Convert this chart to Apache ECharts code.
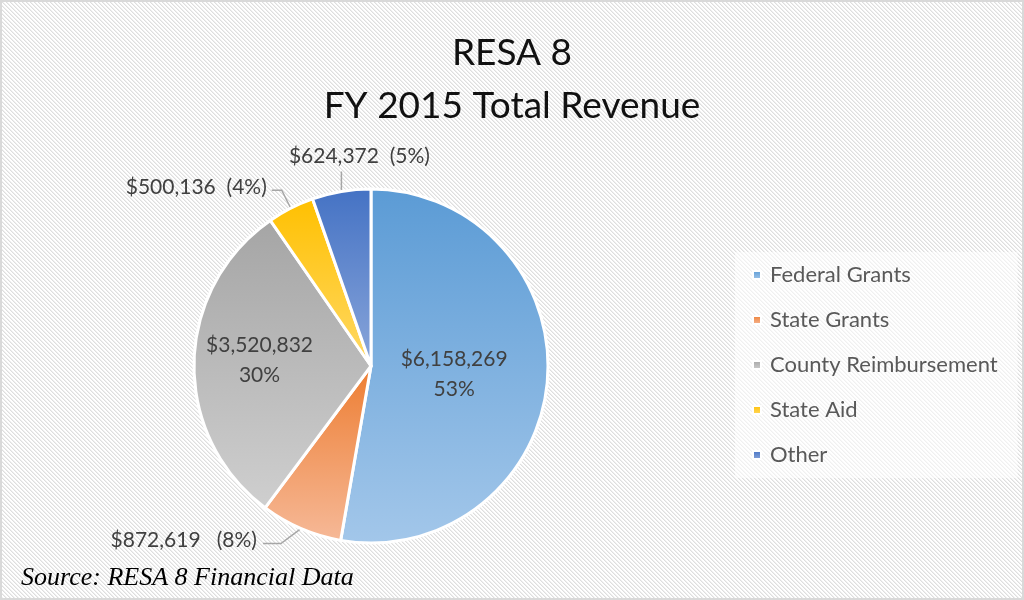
<!DOCTYPE html>
<html>
<head>
<meta charset="utf-8">
<script src="https://cdn.jsdelivr.net/npm/echarts@6/dist/echarts.min.js"></script>
<style>
  html, body { margin: 0; padding: 0; }
  #main {
    width: 1024px; height: 600px; box-sizing: border-box;
    border: 2px solid #d9d9d9;
  }
</style>
</head>
<body>
<div id="main"></div>
<script>
// revenue sources
var categories = ['Federal Grants', 'State Grants', 'County Reimbursement', 'State Aid', 'Other'];
var amounts = [6158269, 872619, 3520832, 500136, 624372];
var percentLabels = ['53%', '8%', '30%', '4%', '5%'];
// top / bottom colours of the gradient fill
var topColors = ['#5b9bd5', '#ed7d31', '#a5a5a5', '#ffc000', '#4472c4'];
var bottomColors = ['#a3c7ea', '#f6b998', '#cfcfcf', '#ffd966', '#8aa6da'];
var insideLabel = [true, false, true, false, false];

// hatched background tile
var tile = document.createElement('canvas');
tile.width = 4; tile.height = 4;
var tctx = tile.getContext('2d');
tctx.fillStyle = '#ffffff';
tctx.fillRect(0, 0, 4, 4);
for (var py = 0; py < 4; py++) {
    for (var px = 0; px < 4; px++) {
        var d = ((px - py) % 4 + 4) % 4;
        if (d === 0) { tctx.fillStyle = '#dedede'; tctx.fillRect(px, py, 1, 1); }
        if (d === 1) { tctx.fillStyle = '#efefef'; tctx.fillRect(px, py, 1, 1); }
    }
}
document.getElementById('main').style.backgroundImage = 'url(' + tile.toDataURL() + ')';

var chart = echarts.init(document.getElementById('main'));

function money(v) {
    return '$' + v.toLocaleString('en-US');
}

var pieData = categories.map(function (name, i) {
    var item = {
        name: name,
        value: amounts[i],
        itemStyle: {
            color: new echarts.graphic.LinearGradient(0, 0, 0, 1, [
                { offset: 0, color: topColors[i] },
                { offset: 1, color: bottomColors[i] }
            ])
        }
    };
    if (insideLabel[i]) {
        item.label = {
            position: 'inside',
            formatter: money(amounts[i]) + '\n' + percentLabels[i],
            lineHeight: 30
        };
        item.labelLine = { show: false };
    } else {
        item.label = {
            position: 'outside',
            formatter: money(amounts[i]) + (i === 1 ? '   (' : '  (') + percentLabels[i] + ')'
        };
    }
    return item;
});

var cx = 369, cy = 364, R = 177;

// point on the pie rim for a slice, angle measured clockwise from 12 o'clock
function rimPoint(params) {
    var total = amounts.reduce(function (a, b) { return a + b; }, 0);
    var before = 0;
    for (var k = 0; k < params.dataIndex; k++) before += amounts[k];
    var mid = (before + amounts[params.dataIndex] / 2) / total * Math.PI * 2;
    return [cx + R * Math.sin(mid), cy - R * Math.cos(mid)];
}

chart.setOption({
    animation: false,
    textStyle: { fontFamily: 'Lato, "Noto Sans", sans-serif' },
    title: {
        text: 'RESA 8\nFY 2015 Total Revenue',
        left: 'center',
        top: 20,
        textStyle: { fontSize: 37, fontWeight: 'normal', color: '#111', lineHeight: 53, fontFamily: 'Lato, "Noto Sans", sans-serif' }
    },
    legend: {
        orient: 'vertical',
        left: 733,
        top: 250,
        backgroundColor: 'rgba(255,255,255,0.55)',
        padding: [12, 20, 12, 17],
        itemWidth: 8,
        itemHeight: 8,
        itemGap: 23,
        icon: 'rect',
        data: categories,
        textStyle: { fontSize: 22, lineHeight: 22, color: '#595959', padding: [0, 0, 0, 4] }
    },
    graphic: [{
        type: 'text',
        left: 19,
        top: 563,
        style: {
            text: 'Source: RESA 8 Financial Data',
            font: 'italic 26px "Liberation Serif", "DejaVu Serif", serif',
            fill: '#000'
        }
    }],
    series: [{
        type: 'pie',
        center: [cx, cy],
        radius: R,
        startAngle: 90,
        clockwise: true,
        itemStyle: { borderColor: '#ffffff', borderWidth: 3 },
        label: { fontSize: 21, color: '#404040' },
        labelLine: { length: 14, length2: 14, lineStyle: { color: '#a6a6a6', width: 1.5 } },
        labelLayout: function (params) {
            var p = rimPoint(params);
            var i = params.dataIndex;
            if (i === 2) return { dx: -20, dy: -4 };
            if (i === 0) return { dx: -8 };
            if (i === 4) {
                return { x: p[0] + 18, y: p[1] - 35, align: 'center', verticalAlign: 'middle',
                    labelLinePoints: [p, [p[0], p[1] - 20], [p[0], p[1] - 20]] };
            }
            if (i === 3) {
                return { x: p[0] - 24, y: p[1] - 21, align: 'right', verticalAlign: 'middle',
                    labelLinePoints: [p, [p[0] - 9, p[1] - 18], [p[0] - 19, p[1] - 18]] };
            }
            if (i === 1) {
                return { x: p[0] - 44, y: p[1] + 12, align: 'right', verticalAlign: 'middle',
                    labelLinePoints: [p, [p[0] - 20, p[1] + 15], [p[0] - 38, p[1] + 15]] };
            }
        },
        data: pieData
    }]
});
</script>
</body>
</html>
